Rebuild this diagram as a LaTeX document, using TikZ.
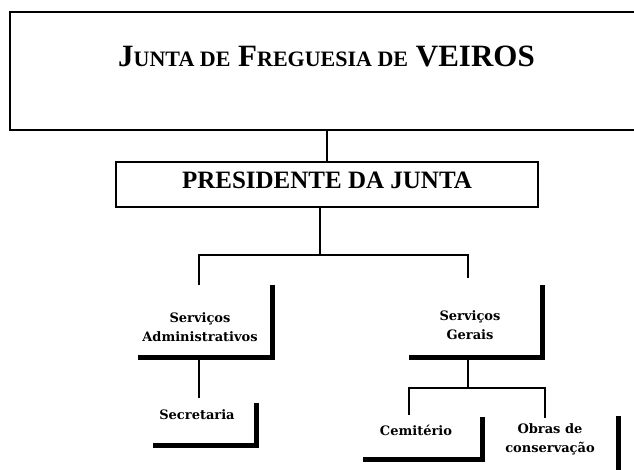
\documentclass[tikz,border=0pt]{standalone}
\usepackage{fontspec}
\setmainfont{Liberation Serif}
\newfontfamily\unitfont{DejaVu Serif}
\begin{document}
\begin{tikzpicture}[x=1pt,y=-1pt,
	conn/.style={line width=1.2pt},
	bar/.style={line width=5pt},
	unit/.style={font=\unitfont\bfseries\fontsize{13}{19}\selectfont, align=center, inner sep=0pt}]
\useasboundingbox (0,0) rectangle (634,470);
\clip (0,0) rectangle (634,470);

% cabecalho
\node [draw, line width=1.4pt, minimum width=634, minimum height=118, inner sep=0pt] (top) at (327,71) {};
\node [anchor=base, font=\bfseries\fontsize{31}{31}\selectfont] (title) at (326.5,67)
	{J{\fontsize{22}{22}\selectfont UNTA DE} F{\fontsize{22}{22}\selectfont REGUESIA DE} VEIROS};

\node [draw, conn, minimum width=422, minimum height=45, inner sep=0pt, text depth=8pt,
	font=\bfseries\fontsize{25}{25}\selectfont] (pres) at (327,184.5) {PRESIDENTE DA JUNTA};
\draw [conn] (top.south) -- (pres.north);

\coordinate (bus) at (320,255);
\coordinate (adm) at (199,285);
\coordinate (ger) at (468,278);
\draw [conn] (pres.south -| bus) -- (bus);
\draw [conn] (adm) |- (bus) -| (ger);

% servicos administrativos
\node [unit] (admtxt) at (200,327) {Serviços\\Administrativos};
\draw [bar] (272,285) |- (138,357);

\coordinate (admout) at (199,359);
\coordinate (sec) at (199,398);
\draw [conn] (admout) -- (sec);
\node [unit] (sectxt) at (197,415) {Secretaria};
\draw [bar] (256,403) |- (153,445);

% servicos gerais
\node [unit] (gertxt) at (470,325) {Serviços\\Gerais};
\draw [bar] (542,285) |- (409,357);

\coordinate (gerout) at (468,359);
\coordinate (bus2) at (468,388);
\coordinate (cem) at (409,415);
\coordinate (obr) at (545,418);
\draw [conn] (gerout) -- (bus2);
\draw [conn] (cem) |- (bus2) -| (obr);

\node [unit] (cemtxt) at (416,430) {Cemitério};
\draw [bar] (482,417) |- (363,459);

\node [unit] (obrtxt) at (550,439) {Obras de\\conservação};
\draw [bar] (618,416) -- (618,475);

\end{tikzpicture}
\end{document}
